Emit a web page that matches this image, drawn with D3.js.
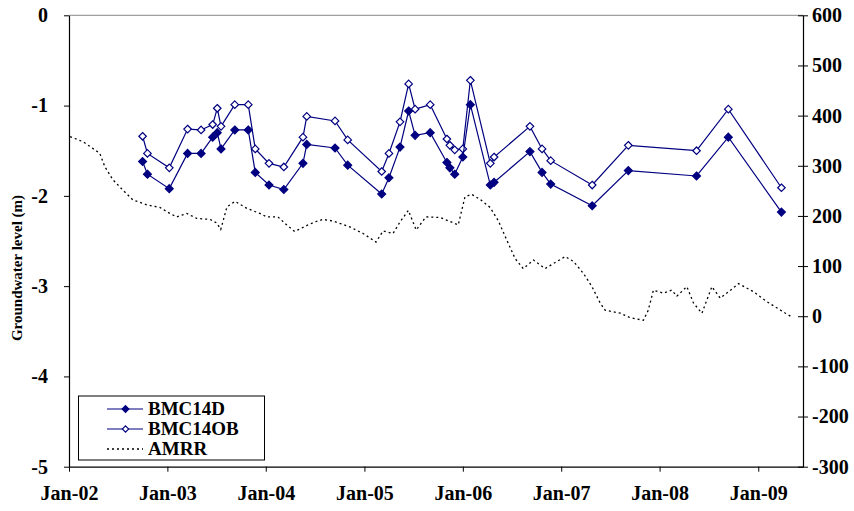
<!DOCTYPE html>
<html>
<head>
<meta charset="utf-8">
<script src="https://cdn.jsdelivr.net/npm/d3@7"></script>
<style>
  body { margin: 0; background: #fff; }
  svg text { font-family: "Liberation Serif", "Times New Roman", serif; font-weight: bold; fill: #000; }
</style>
</head>
<body>
<div id="chart"></div>
<script>
// sampling dates shared by both bores
const sampleDates = [
  '2002-10-01', '2002-10-19', '2003-01-08', '2003-03-17', '2003-05-06', '2003-06-18',
  '2003-07-05', '2003-07-19', '2003-09-08', '2003-10-28', '2003-11-23', '2004-01-13',
  '2004-03-08', '2004-05-18', '2004-06-01', '2004-09-14', '2004-10-31', '2005-03-06',
  '2005-04-02', '2005-05-13', '2005-06-14', '2005-07-08', '2005-09-02', '2005-11-03',
  '2005-11-14', '2005-12-02', '2006-01-01', '2006-01-29', '2006-04-13', '2006-04-27',
  '2006-09-07', '2006-10-22', '2006-11-23', '2007-04-26', '2007-09-07', '2008-05-17',
  '2008-09-12', '2009-03-28'
];

const bmc14d = [
  -1.62, -1.76, -1.92, -1.53, -1.53, -1.35, -1.30, -1.48, -1.27, -1.27, -1.74, -1.88,
  -1.93, -1.64, -1.43, -1.47, -1.66, -1.98, -1.80, -1.46, -1.06, -1.33, -1.30, -1.63,
  -1.69, -1.76, -1.57, -0.99, -1.88, -1.85, -1.51, -1.74, -1.87, -2.11, -1.72, -1.78,
  -1.35, -2.18
];

const bmc14ob = [
  -1.34, -1.53, -1.69, -1.26, -1.27, -1.21, -1.03, -1.23, -0.99, -0.99, -1.48, -1.64,
  -1.68, -1.35, -1.12, -1.17, -1.38, -1.73, -1.53, -1.18, -0.76, -1.04, -0.99, -1.37,
  -1.44, -1.49, -1.48, -0.72, -1.64, -1.57, -1.23, -1.48, -1.61, -1.88, -1.44, -1.50,
  -1.04, -1.91
];

// AMRR (right axis)
const amrrDates = [
  '2002-01-05', '2002-02-22', '2002-04-25', '2002-05-14', '2002-06-13', '2002-07-19',
  '2002-08-26', '2002-10-17', '2002-12-04', '2003-01-10', '2003-02-05', '2003-03-14',
  '2003-04-20', '2003-06-08', '2003-07-03', '2003-07-18', '2003-08-10', '2003-09-09',
  '2003-10-23', '2003-12-10', '2004-01-05', '2004-02-15', '2004-03-19', '2004-04-17',
  '2004-06-02', '2004-07-01', '2004-07-31', '2004-09-06', '2004-11-08', '2004-12-27',
  '2005-02-13', '2005-03-11', '2005-04-17', '2005-05-13', '2005-06-13', '2005-07-12',
  '2005-08-17', '2005-10-08', '2005-11-14', '2005-12-15', '2006-01-09', '2006-02-03',
  '2006-03-06', '2006-04-12', '2006-05-13', '2006-06-13', '2006-07-14', '2006-08-13',
  '2006-09-20', '2006-11-02', '2006-12-03', '2007-01-16', '2007-02-16', '2007-03-25',
  '2007-04-25', '2007-05-26', '2007-06-13', '2007-08-08', '2007-09-14', '2007-11-02',
  '2007-11-20', '2007-12-09', '2008-01-15', '2008-02-15', '2008-03-05', '2008-04-11',
  '2008-05-06', '2008-06-06', '2008-07-13', '2008-08-13', '2008-09-13', '2008-10-20',
  '2008-12-14', '2009-02-02', '2009-04-12', '2009-05-01'
];

const amrr = [
  358, 348, 325, 298, 272, 252, 232, 222, 217, 205, 198, 205,
  195, 193, 186, 173, 218, 229, 215, 205, 198, 198, 182, 169,
  181, 188, 193, 190, 178, 165, 148, 170, 165, 188, 211, 172,
  198, 197, 189, 182, 238, 243, 233, 217, 190, 152, 115, 95,
  112, 95, 105, 119, 109, 85, 59, 26, 12, 6, -3, -8,
  12, 52, 46, 52, 40, 59, 26, 6, 59, 36, 49, 65,
  49, 29, 6, 0
];

const leftTicks = [0, -1, -2, -3, -4, -5];
const rightTicks = [600, 500, 400, 300, 200, 100, 0, -100, -200, -300];
const yearTicks = d3.range(2002, 2010).map(y => new Date(y, 0, 1));

const width = 854, height = 511;
const plot = { left: 69, right: 803, top: 15.3, bottom: 466.7 };
const navy = '#000080';
const serif = '"Liberation Serif", "Times New Roman", serif';

const parse = d3.timeParse('%Y-%m-%d');

const svg = d3.select('#chart').append('svg')
  .attr('width', width)
  .attr('height', height);

const x = d3.scaleTime()
  .domain([new Date(2002, 0, 1), new Date(2009, 5, 16)])
  .range([plot.left, plot.right]);

const yL = d3.scaleLinear().domain([-5, 0]).range([plot.bottom, plot.top]);
const yR = d3.scaleLinear().domain([-300, 600]).range([plot.bottom, plot.top]);

// top border
svg.append('line')
  .attr('x1', plot.left).attr('x2', plot.right)
  .attr('y1', plot.top).attr('y2', plot.top)
  .attr('stroke', '#888').attr('stroke-width', 1);

// axes
const gx = svg.append('g')
  .attr('transform', `translate(0,${plot.bottom})`)
  .call(d3.axisBottom(x).tickValues(yearTicks).tickSizeInner(5).tickSizeOuter(0)
    .tickPadding(14).tickFormat(d3.timeFormat('Jan-%y')));

const gl = svg.append('g')
  .attr('transform', `translate(${plot.left},0)`)
  .call(d3.axisLeft(yL).tickValues(leftTicks).tickSizeInner(5).tickSizeOuter(0)
    .tickPadding(16).tickFormat(d => String(d)));

const gr = svg.append('g')
  .attr('transform', `translate(${plot.right},0)`)
  .call(d3.axisRight(yR).tickValues(rightTicks).tickSizeInner(5).tickSizeOuter(0)
    .tickPadding(4).tickFormat(d => String(d)));

// right ticks cross the axis line
gr.selectAll('.tick').append('line').attr('x1', -5).attr('x2', 0).attr('stroke', '#000');

[gx, gl, gr].forEach(g => {
  g.attr('font-family', serif).attr('font-size', 20).attr('font-weight', 'bold');
  g.select('.domain').attr('stroke', '#000').attr('stroke-width', 1.2);
  g.selectAll('.tick line').attr('stroke', '#000');
  g.selectAll('.tick text')
    .attr('font-weight', 'bold')
    .attr('fill', '#000');
});

// y title
svg.append('text')
  .attr('transform', 'translate(22,268) rotate(-90)')
  .attr('text-anchor', 'middle')
  .attr('font-weight', 'bold')
  .style('font-size', '15px')
  .text('Groundwater level (m)');

// series
const dRows = sampleDates.map((d, i) => ({ date: parse(d), v: bmc14d[i] }));
const obRows = sampleDates.map((d, i) => ({ date: parse(d), v: bmc14ob[i] }));
const amrrRows = amrrDates.map((d, i) => ({ date: parse(d), v: amrr[i] }));

const lineL = d3.line().x(d => x(d.date)).y(d => yL(d.v));
const lineR = d3.line().x(d => x(d.date)).y(d => yR(d.v));

svg.append('path')
  .datum(amrrRows)
  .attr('d', lineR)
  .attr('fill', 'none')
  .attr('stroke', '#000')
  .attr('stroke-width', 1.3)
  .attr('stroke-dasharray', '2,3');

const diamond = d3.symbol().type(d3.symbolDiamond2);

function drawSeries(rows, filled) {
  svg.append('path')
    .datum(rows)
    .attr('d', lineL)
    .attr('fill', 'none')
    .attr('stroke', navy)
    .attr('stroke-width', 1.2);

  svg.append('g').selectAll('path')
    .data(rows)
    .enter()
    .append('path')
    .attr('transform', d => `translate(${x(d.date)},${yL(d.v)})`)
    .attr('d', diamond.size(filled ? 40 : 36)())
    .attr('fill', filled ? navy : '#fff')
    .attr('stroke', navy)
    .attr('stroke-width', 1.2);
}

drawSeries(obRows, false);
drawSeries(dRows, true);

// legend
const legend = svg.append('g');
legend.append('rect')
  .attr('x', 78.5).attr('y', 396)
  .attr('width', 186).attr('height', 64)
  .attr('fill', '#fff')
  .attr('stroke', '#000')
  .attr('stroke-width', 1);

const legendItems = [
  { name: 'BMC14D', type: 'filled' },
  { name: 'BMC14OB', type: 'open' },
  { name: 'AMRR', type: 'dotted' }
];

legendItems.forEach((item, i) => {
  const ly = 409 + i * 20;
  const g = legend.append('g');
  const ln = g.append('line')
    .attr('x1', 107).attr('x2', 143)
    .attr('y1', ly).attr('y2', ly);
  if (item.type === 'dotted') {
    ln.attr('stroke', '#000').attr('stroke-width', 1.3).attr('stroke-dasharray', '2,3');
  } else {
    ln.attr('stroke', navy).attr('stroke-width', 1.2);
    g.append('path')
      .attr('transform', `translate(125.5,${ly})`)
      .attr('d', diamond.size(item.type === 'filled' ? 30 : 26)())
      .attr('fill', item.type === 'filled' ? navy : '#fff')
      .attr('stroke', navy)
      .attr('stroke-width', 1.1);
  }
  g.append('text')
    .attr('x', 148)
    .attr('y', ly + 6)
    .attr('font-weight', 'bold')
    .style('font-size', '19px')
    .text(item.name);
});
</script>
</body>
</html>
